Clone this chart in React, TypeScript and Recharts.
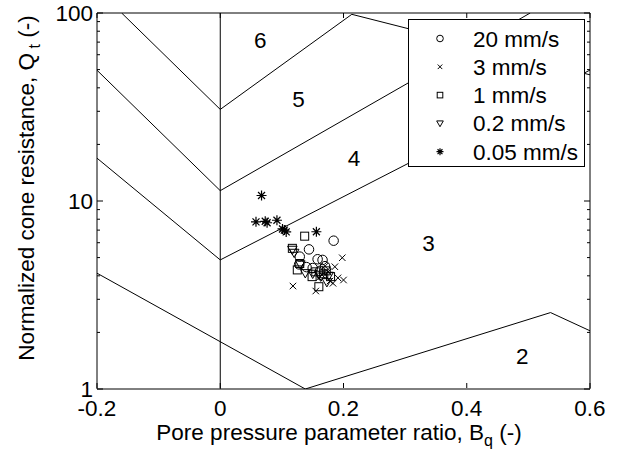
import { ComposedChart, Line, Scatter, XAxis, YAxis, Legend } from 'recharts';

const FONT = '"Liberation Sans", Arial, Helvetica, sans-serif';
const FS = 22.5;

const xTicks = [-0.2, 0, 0.2, 0.4, 0.6];
const yMajor = [1, 10, 100];
const yTicks = [1, 2, 3, 4, 5, 6, 7, 8, 9, 10, 20, 30, 40, 50, 60, 70, 80, 90, 100];

// soil behaviour type zone boundaries (Bq, Qt)
const zoneLine67 = [{ x: -0.16, y: 100 }, { x: 0, y: 30.7 }, { x: 0.2135, y: 98.4 }, { x: 0.6, y: 46.9 }];
const zoneLine56 = [{ x: -0.2, y: 49.6 }, { x: 0, y: 11.35 }, { x: 0.503, y: 100 }];
const zoneLine45 = [{ x: -0.2, y: 16.9 }, { x: 0, y: 4.86 }, { x: 0.6, y: 49.7 }];
const zoneLine23 = [{ x: -0.2, y: 4.13 }, { x: 0.138, y: 1 }, { x: 0.536, y: 2.55 }, { x: 0.6, y: 2.04 }];
const zeroLine = [{ x: 0, y: 1 }, { x: 0, y: 100 }];

const zoneLabels = [
  { x: 0.065, y: 72, label: '6' },
  { x: 0.127, y: 34.7, label: '5' },
  { x: 0.217, y: 16.9, label: '4' },
  { x: 0.338, y: 6.0, label: '3' },
  { x: 0.49, y: 1.5, label: '2' },
];

const rate20 = [
  { x: 0.184, y: 6.15 }, { x: 0.144, y: 5.53 }, { x: 0.129, y: 5.06 }, { x: 0.166, y: 4.86 },
  { x: 0.158, y: 4.9 }, { x: 0.128, y: 4.6 }, { x: 0.15, y: 4.4 }, { x: 0.17, y: 4.5 },
  { x: 0.162, y: 4.25 }, { x: 0.14, y: 4.45 },
];
const rate3 = [
  { x: 0.198, y: 4.99 }, { x: 0.186, y: 4.47 }, { x: 0.2, y: 3.8 }, { x: 0.191, y: 3.9 },
  { x: 0.183, y: 3.65 }, { x: 0.118, y: 3.53 }, { x: 0.155, y: 3.32 }, { x: 0.17, y: 4.5 },
  { x: 0.165, y: 4.05 }, { x: 0.175, y: 4.2 }, { x: 0.16, y: 3.9 }, { x: 0.178, y: 3.75 },
];
const rate1 = [
  { x: 0.137, y: 6.5 }, { x: 0.117, y: 5.6 }, { x: 0.129, y: 4.65 }, { x: 0.125, y: 4.3 },
  { x: 0.149, y: 3.96 }, { x: 0.16, y: 3.5 }, { x: 0.179, y: 3.96 }, { x: 0.168, y: 4.1 },
  { x: 0.155, y: 4.2 }, { x: 0.172, y: 4.25 },
];
const rate02 = [
  { x: 0.117, y: 5.5 }, { x: 0.12, y: 5.3 }, { x: 0.13, y: 4.6 }, { x: 0.138, y: 4.13 },
  { x: 0.163, y: 3.96 }, { x: 0.173, y: 3.7 }, { x: 0.15, y: 4.1 }, { x: 0.176, y: 4.0 },
  { x: 0.16, y: 4.05 },
];
const rate005 = [
  { x: 0.067, y: 10.7 }, { x: 0.058, y: 7.75 }, { x: 0.076, y: 7.66 }, { x: 0.073, y: 7.8 },
  { x: 0.092, y: 7.9 }, { x: 0.104, y: 7.0 }, { x: 0.101, y: 7.1 }, { x: 0.107, y: 6.85 },
  { x: 0.156, y: 6.86 },
];

const seriesNames = ['20 mm/s', '3 mm/s', '1 mm/s', '0.2 mm/s', '0.05 mm/s'];

type Sym = 'circle' | 'cross' | 'square' | 'triangle' | 'star';
const seriesSymbols: Sym[] = ['circle', 'cross', 'square', 'triangle', 'star'];

function marker(kind: Sym, cx: number, cy: number, s: number) {
  const st = { stroke: '#000', strokeWidth: 1, fill: 'none' };
  switch (kind) {
    case 'circle':
      return <circle cx={cx} cy={cy} r={s * 0.95} {...st} />;
    case 'cross': {
      const d = s * 0.65;
      return (
        <path d={`M${cx - d},${cy - d}L${cx + d},${cy + d}M${cx - d},${cy + d}L${cx + d},${cy - d}`} {...st} />
      );
    }
    case 'square': {
      const d = s * 0.8;
      return <rect x={cx - d} y={cy - d} width={2 * d} height={2 * d} {...st} />;
    }
    case 'triangle': {
      const d = s * 0.95;
      return <path d={`M${cx - d},${cy - d * 0.75}L${cx + d},${cy - d * 0.75}L${cx},${cy + d}Z`} {...st} />;
    }
    default: {
      const d = s;
      const e = d * 0.7;
      return (
        <path
          d={`M${cx - d},${cy}L${cx + d},${cy}M${cx},${cy - d}L${cx},${cy + d}M${cx - e},${cy - e}L${cx + e},${cy + e}M${cx - e},${cy + e}L${cx + e},${cy - e}`}
          {...st}
          strokeWidth={1.2}
        />
      );
    }
  }
}

const shapeFor = (kind: Sym) =>
  // eslint-disable-next-line @typescript-eslint/no-explicit-any
  (p: any) => marker(kind, p.cx, p.cy, 5);

// eslint-disable-next-line @typescript-eslint/no-explicit-any
function ZoneText(p: any) {
  return (
    <text x={p.cx} y={p.cy + 8} textAnchor="middle" fontSize={FS} fontFamily={FONT} fill="#000">
      {p.payload.label}
    </text>
  );
}

// eslint-disable-next-line @typescript-eslint/no-explicit-any
function BottomTick(p: any) {
  const { x, y, payload } = p;
  return (
    <g>
      <line x1={x} x2={x} y1={y - 1} y2={y - 6} stroke="#000" />
      <text x={x} y={y + 27} textAnchor="middle" fontSize={FS} fontFamily={FONT} fill="#000">
        {String(payload.value)}
      </text>
    </g>
  );
}

// eslint-disable-next-line @typescript-eslint/no-explicit-any
function TopTick(p: any) {
  const { x, y } = p;
  return <line x1={x} x2={x} y1={y} y2={y + 5} stroke="#000" />;
}

// eslint-disable-next-line @typescript-eslint/no-explicit-any
function LeftTick(p: any) {
  const { x, y, payload } = p;
  const major = yMajor.includes(payload.value);
  return (
    <g>
      <line x1={x} x2={x + (major ? 6 : 3)} y1={y} y2={y} stroke="#000" />
      {major && (
        <text x={x - 4} y={y + 8} textAnchor="end" fontSize={FS} fontFamily={FONT} fill="#000">
          {String(payload.value)}
        </text>
      )}
    </g>
  );
}

// eslint-disable-next-line @typescript-eslint/no-explicit-any
function RightTick(p: any) {
  const { x, y, payload } = p;
  const major = yMajor.includes(payload.value);
  return <line x1={x} x2={x - (major ? 6 : 3)} y1={y} y2={y} stroke="#000" />;
}

function LegendBox() {
  const w = 177;
  const h = 148;
  return (
    <svg width={w} height={h} style={{ display: 'block' }}>
      <rect x={0.5} y={0.5} width={w - 1} height={h - 1} fill="#fff" stroke="#000" />
      {seriesNames.map((name, i) => {
        const cy = 19.5 + i * 28.3;
        return (
          <g key={name}>
            {marker(seriesSymbols[i], 32, cy, 3.5)}
            <text x={65} y={cy + 8} fontSize={FS} fontFamily={FONT} fill="#000">
              {name}
            </text>
          </g>
        );
      })}
    </svg>
  );
}

const series = [rate20, rate3, rate1, rate02, rate005];
const boundaries = [zoneLine67, zoneLine56, zoneLine45, zoneLine23, zeroLine];

export default function App() {
  return (
    <div style={{ position: 'absolute', left: 0, top: 0, width: 618, height: 452, background: '#fff' }}>
      <ComposedChart width={618} height={452} margin={{ top: 12, right: 27, bottom: 62, left: 96 }}>
        <XAxis
          dataKey="x"
          type="number"
          domain={[-0.2, 0.6]}
          ticks={xTicks}
          allowDataOverflow
          height={1}
          tickSize={0}
          tickMargin={0}
          tickLine={false}
          axisLine={{ stroke: '#000' }}
          tick={BottomTick}
          interval={0}
        />
        <XAxis
          xAxisId="top"
          orientation="top"
          dataKey="x"
          type="number"
          domain={[-0.2, 0.6]}
          ticks={xTicks}
          allowDataOverflow
          height={1}
          tickSize={0}
          tickMargin={0}
          tickLine={false}
          axisLine={{ stroke: '#000' }}
          tick={TopTick}
          interval={0}
        />
        <YAxis
          dataKey="y"
          type="number"
          scale="log"
          domain={[1, 100]}
          ticks={yTicks}
          allowDataOverflow
          width={1}
          tickSize={0}
          tickMargin={0}
          tickLine={false}
          axisLine={{ stroke: '#000' }}
          tick={LeftTick}
          interval={0}
        />
        <YAxis
          yAxisId="right"
          orientation="right"
          dataKey="y"
          type="number"
          scale="log"
          domain={[1, 100]}
          ticks={yTicks}
          allowDataOverflow
          width={1}
          tickSize={0}
          tickMargin={0}
          tickLine={false}
          axisLine={{ stroke: '#000' }}
          tick={RightTick}
          interval={0}
        />
        {boundaries.map((b, i) => (
          <Line
            key={`b${i}`}
            data={b}
            dataKey="y"
            type="linear"
            stroke="#000"
            strokeWidth={1}
            dot={false}
            activeDot={false}
            legendType="none"
            isAnimationActive={false}
          />
        ))}
        <Scatter data={zoneLabels} dataKey="y" shape={ZoneText} legendType="none" isAnimationActive={false} />
        {series.map((s, i) => (
          <Scatter
            key={seriesNames[i]}
            name={seriesNames[i]}
            data={s}
            dataKey="y"
            shape={shapeFor(seriesSymbols[i])}
            isAnimationActive={false}
          />
        ))}
        <Legend
          layout="vertical"
          align="center"
          verticalAlign="middle"
          content={LegendBox}
          wrapperStyle={{ position: 'absolute', left: 408, top: 19, width: 177, height: 148 }}
        />
      </ComposedChart>
      <svg width={618} height={452} style={{ position: 'absolute', left: 0, top: 0, pointerEvents: 'none' }}>
        <text x={339} y={440} textAnchor="middle" fontSize={FS} fontFamily={FONT} fill="#000">
          Pore pressure parameter ratio, B
          <tspan fontSize={16} dy={6}>q</tspan>
          <tspan dy={-6}> (-)</tspan>
        </text>
        <text
          transform="translate(34,188) rotate(-90)"
          textAnchor="middle"
          fontSize={FS}
          fontFamily={FONT}
          fill="#000"
        >
          Normalized cone resistance, Q
          <tspan fontSize={16} dy={6}> t</tspan>
          <tspan dy={-6}> (-)</tspan>
        </text>
      </svg>
    </div>
  );
}
